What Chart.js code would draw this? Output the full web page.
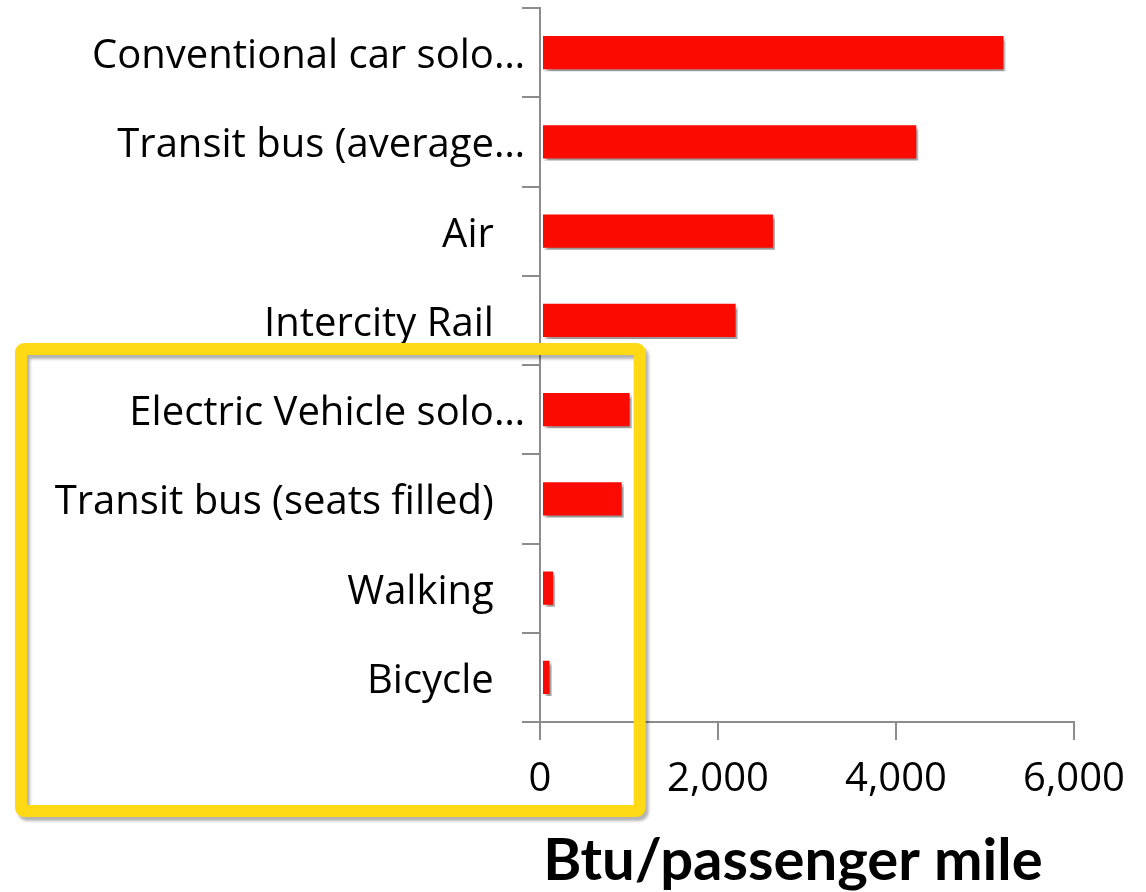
<!DOCTYPE html>
<html>
<head>
<meta charset="utf-8">
<script src="https://cdn.jsdelivr.net/npm/chart.js@4.4.1/dist/chart.umd.min.js"></script>
<style>
  html, body { margin: 0; padding: 0; background: #fff; }
  #wrap { width: 1146px; height: 892px; }
</style>
</head>
<body>
<div id="wrap"><canvas id="myChart" width="1146" height="892"></canvas></div>
<script>
// categories, top to bottom (trailing spaces keep the short labels off the axis like the original)
const modes = [
    'Conventional car solo\u2026',
    'Transit bus (average\u2026',
    'Air   ',
    'Intercity Rail   ',
    'Electric Vehicle solo\u2026',
    'Transit bus (seats filled)   ',
    'Walking   ',
    'Bicycle   '
];
const btuPerPassengerMile = [5230, 4250, 2640, 2220, 1030, 940, 170, 130];
const xTicks = [0, 2000, 4000, 6000];

// highlight box around the low-energy modes
const highlightFrom = 4;      // first highlighted category index
const highlightMaxValue = 1120;

const axisGrey = '#8c8c8c';
const labelFont = '"Open Sans", Lato, sans-serif';
const titleFont = 'Lato, "Open Sans", sans-serif';

const barShadow = {
    id: 'barShadow',
    beforeDatasetsDraw(chart) {
        const ctx = chart.ctx;
        ctx.save();
        ctx.shadowColor = 'rgba(0, 0, 0, 0.4)';
        ctx.shadowBlur = 3;
        ctx.shadowOffsetX = 3;
        ctx.shadowOffsetY = 4;
    },
    afterDatasetsDraw(chart) {
        chart.ctx.restore();
    }
};

const highlightBox = {
    id: 'highlightBox',
    afterDraw(chart) {
        const ctx = chart.ctx;
        const x = chart.scales.x;
        const y = chart.scales.y;
        const left = 21;
        const right = x.getPixelForValue(highlightMaxValue);
        const top = y.getPixelForValue(highlightFrom - 0.5) - 16;
        const bottom = x.top + 89;
        ctx.save();
        ctx.shadowColor = 'rgba(0, 0, 0, 0.3)';
        ctx.shadowBlur = 3;
        ctx.shadowOffsetX = 3;
        ctx.shadowOffsetY = 4;
        ctx.strokeStyle = '#ffda14';
        ctx.lineWidth = 12;
        ctx.lineJoin = 'round';
        ctx.beginPath();
        ctx.roundRect(left, top, right - left, bottom - top, 3);
        ctx.stroke();
        ctx.restore();
    }
};

const ctx = document.getElementById('myChart').getContext('2d');
const myChart = new Chart(ctx, {
    type: 'bar',
    data: {
        labels: modes,
        datasets: [
            {
                label: 'Btu/passenger mile',
                data: btuPerPassengerMile,
                backgroundColor: '#fa0a00',
                borderColor: '#ffffff',
                borderWidth: 2,
                borderSkipped: false,
                categoryPercentage: 1,
                barPercentage: 0.42
            }
        ]
    },
    options: {
        indexAxis: 'y',
        responsive: false,
        animation: false,
        layout: {
            padding: { left: 10, right: 72, top: 8, bottom: 0 }
        },
        scales: {
            x: {
                min: 0,
                max: 6000,
                afterBuildTicks: (scale) => {
                    scale.ticks = xTicks.map(v => ({ value: v }));
                },
                afterFit: (scale) => { scale.height = 170; },
                border: { color: axisGrey, width: 2 },
                grid: {
                    drawOnChartArea: false,
                    color: axisGrey,
                    lineWidth: 2,
                    tickLength: 18
                },
                ticks: {
                    color: '#000',
                    padding: 16,
                    font: { family: labelFont, size: 40, lineHeight: 1.2 }
                },
                title: {
                    display: true,
                    text: 'Btu/passenger mile  ',
                    color: '#000',
                    padding: { top: 0, bottom: 2 },
                    font: { family: titleFont, size: 58, weight: 'bold', lineHeight: 1 }
                }
            },
            y: {
                afterFit: (scale) => { scale.width = 530; },
                border: { color: axisGrey, width: 2 },
                grid: {
                    drawOnChartArea: false,
                    color: axisGrey,
                    lineWidth: 2,
                    tickLength: 18
                },
                ticks: {
                    color: '#000',
                    padding: -3,
                    labelOffset: 4,
                    autoSkip: false,
                    font: { family: labelFont, size: 40, lineHeight: 0.4 }
                }
            }
        },
        plugins: {
            legend: { display: false },
            tooltip: { enabled: false }
        }
    },
    plugins: [barShadow, highlightBox]
});
</script>
</body>
</html>
